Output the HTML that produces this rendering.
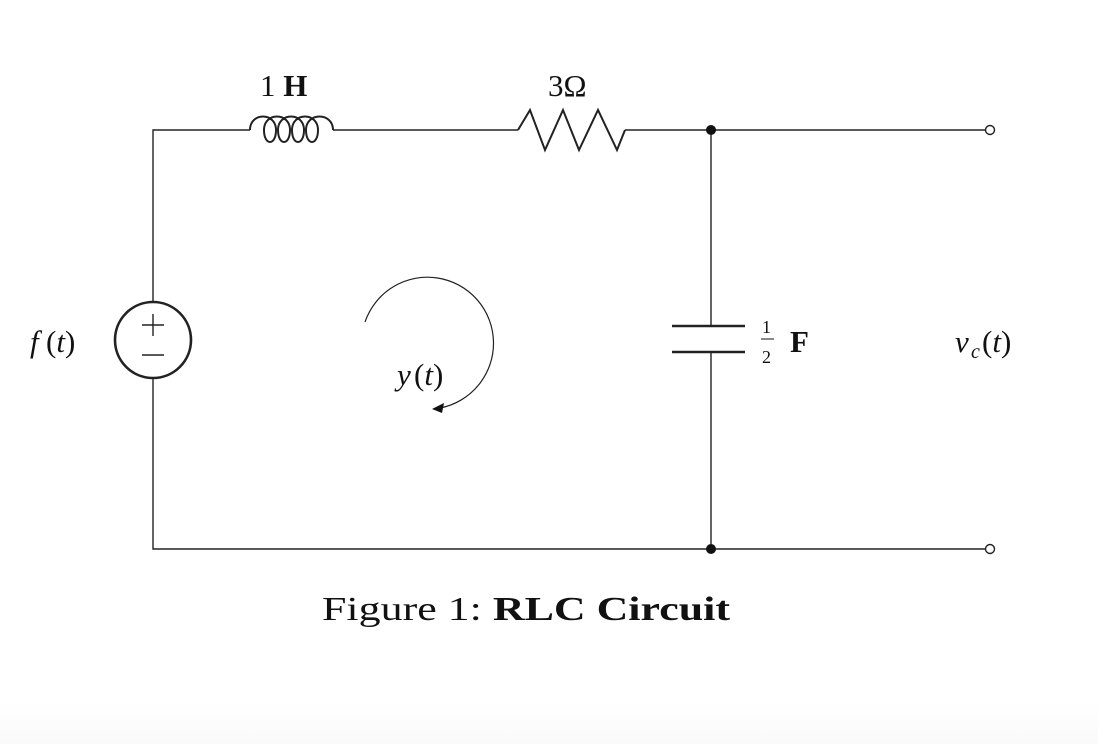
<!DOCTYPE html>
<html><head><meta charset="utf-8"><style>
html,body{margin:0;padding:0;background:#fff}
body{width:1098px;height:744px;overflow:hidden;background:linear-gradient(to bottom,#fff 0,#fff 700px,#fafafa 744px)}
svg{display:block}
text{font-family:"Liberation Serif",serif;fill:#111}
</style></head><body>
<svg width="1098" height="744" viewBox="0 0 1098 744" xmlns="http://www.w3.org/2000/svg">
<g fill="none" stroke="#222" stroke-width="1.4">
<path d="M153,340 L153,130 L250,130"/>
<path d="M250,130 C250,112 276,112 276,130 C276,146 264,146 264,130 C264,112 290,112 290,130 C290,146 278,146 278,130 C278,112 304,112 304,130 C304,146 292,146 292,130 C292,112 318,112 318,130 C318,146 306,146 306,130 C306,112 333,112 333,130" stroke-width="2"/>
<path d="M333,130 L518,130"/>
<path d="M518,130 L530,110 L545,150 L563,110 L579,150 L598,110 L617,150 L625,130" stroke-width="2"/>
<path d="M625,130 L986,130"/>
<path d="M711,130 L711,326 M711,352 L711,549"/>
<path d="M672,326 L745,326 M672,352 L745,352" stroke-width="2.6"/>
<path d="M153,340 L153,549 L986,549"/>
<circle cx="990" cy="130" r="4.5"/>
<circle cx="990" cy="549" r="4.5"/>
<circle cx="153" cy="340" r="38" fill="#fff" stroke-width="2.6"/>
<path d="M142,325 L164,325 M153,314 L153,336 M142,355 L164,355" stroke-width="1.4"/>
<path d="M365,322 A66,66 0 1 1 440,408" stroke-width="1.2"/>
</g>
<path d="M432,409 L444,403 L442,413 Z" fill="#111"/>
<circle cx="711" cy="130" r="5" fill="#111"/>
<circle cx="711" cy="549" r="5" fill="#111"/>
<text x="260" y="96" font-size="31">1 <tspan font-weight="bold">H</tspan></text>
<text x="548" y="96" font-size="31">3Ω</text>
<text x="30" y="352" font-size="31" font-style="italic">f</text><text x="46" y="352" font-size="31">(<tspan font-style="italic">t</tspan>)</text>
<text x="397" y="385" font-size="31" font-style="italic">y</text><text x="414" y="385" font-size="31">(<tspan font-style="italic">t</tspan>)</text>
<text x="762" y="333" font-size="18">1</text>
<path d="M761,339 L774,339" stroke="#111" stroke-width="1"/>
<text x="762" y="363" font-size="18">2</text>
<text x="790" y="352" font-size="31" font-weight="bold">F</text>
<text x="955" y="352" font-size="31" font-style="italic">v</text><text x="971" y="358" font-size="20" font-style="italic">c</text><text x="982" y="352" font-size="31">(<tspan font-style="italic">t</tspan>)</text>
<text x="322" y="620" font-size="34" textLength="408" lengthAdjust="spacingAndGlyphs">Figure 1: <tspan font-weight="bold">RLC Circuit</tspan></text>
</svg>
</body></html>
